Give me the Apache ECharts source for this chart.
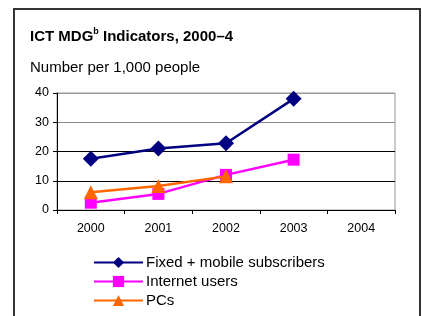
<!DOCTYPE html>
<html>
<head>
<meta charset="utf-8">
<script src="https://cdn.jsdelivr.net/npm/echarts@6/dist/echarts.min.js"></script>
<style>
  html, body { margin: 0; padding: 0; background: #fff; }
  #main { width: 422px; height: 316px; }
</style>
</head>
<body>
<div id="main"></div>
<script>
// chart data
var years = ['2000', '2001', '2002', '2003', '2004'];
var fixedMobile = [17.5, 21, 22.8, 38, null];
var internetUsers = [2.5, 5.5, 12, 17.2, null];
var pcs = [6.1, 8.2, 11.5, null, null];
var seriesNames = ['Fixed + mobile subscribers', 'Internet users', 'PCs'];

document.addEventListener('DOMContentLoaded', function() {
    var chartDom = document.getElementById('main');
    var myChart = echarts.init(chartDom);
    var font = 'Liberation Sans, Arial, sans-serif';

    var option = {
        animation: false,
        textStyle: { fontFamily: font },
        title: [
          {
            text: '{a|ICT MDG}{s|b}{a| Indicators, 2000–4}',
            left: 30, top: 27,
            padding: 0,
            textStyle: {
              rich: {
                a: { fontFamily: font, fontWeight: 'bold', fontSize: 15, color: '#000', verticalAlign: 'bottom' },
                s: { fontFamily: font, fontWeight: 'bold', fontSize: 9, color: '#000', verticalAlign: 'top', padding: [0, 0, 8, 0] }
              }
            }
          },
          {
            text: 'Number per 1,000 people',
            left: 30, top: 60,
            padding: 0,
            textStyle: { fontFamily: font, fontWeight: 'normal', fontSize: 15, color: '#000' }
          }
        ],
        graphic: [
          {
            type: 'polyline',
            shape: { points: [[14, 316], [14, 9], [420, 9], [420, 316]] },
            style: { stroke: '#333', lineWidth: 2, fill: null }
          }
        ],
        legend: {
          orient: 'vertical',
          left: 93, top: 255,
          padding: 0,
          itemWidth: 49, itemHeight: 14,
          itemGap: 4,
          data: seriesNames,
          textStyle: { fontFamily: font, fontSize: 15, color: '#000', padding: [0, 0, 0, -2] }
        },
        grid: {
          left: 57, right: 27, top: 93, bottom: 106,
          show: true, borderColor: '#999', borderWidth: 1
        },
        xAxis: {
          type: 'category',
          data: years,
          boundaryGap: true,
          axisLine: { lineStyle: { color: '#000', width: 1 } },
          axisTick: { show: true, length: 4, lineStyle: { color: '#000' } },
          axisLabel: { fontFamily: font, fontSize: 12.5, color: '#000', margin: 12 }
        },
        yAxis: {
          type: 'value',
          min: 0, max: 40, interval: 10,
          axisLine: { show: true, lineStyle: { color: '#000', width: 1 } },
          axisTick: { show: true, length: 4, lineStyle: { color: '#000' } },
          axisLabel: { fontFamily: font, fontSize: 12.5, color: '#000', margin: 8 },
          splitLine: { show: true, lineStyle: { color: ['#000', '#000', '#000', '#888', '#999'], width: 1 } }
        },
        series: [
          {
            name: seriesNames[0], type: 'line', data: fixedMobile,
            symbol: 'diamond', symbolSize: 16,
            itemStyle: { color: '#000080' },
            lineStyle: { color: '#000080', width: 2.5 },
            z: 3
          },
          {
            name: seriesNames[1], type: 'line', data: internetUsers,
            symbol: 'rect', symbolSize: 12,
            itemStyle: { color: '#FF00FF' },
            lineStyle: { color: '#FF00FF', width: 2.5 },
            z: 4
          },
          {
            name: seriesNames[2], type: 'line', data: pcs,
            symbol: 'triangle', symbolSize: 14,
            itemStyle: { color: '#FF6600' },
            lineStyle: { color: '#FF6600', width: 2.5 },
            z: 5
          }
        ]
    };

    option && myChart.setOption(option);
});
</script>
</body>
</html>
